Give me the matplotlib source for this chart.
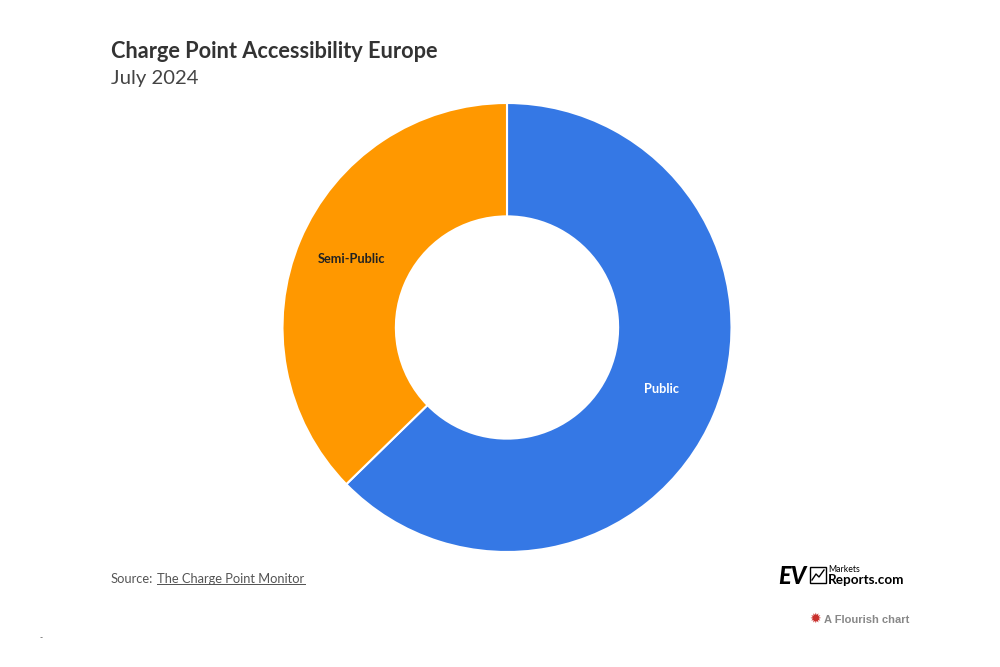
import matplotlib
matplotlib.use("Agg")
import matplotlib.pyplot as plt
from matplotlib.lines import Line2D
from matplotlib.patches import Rectangle

labels = ["Public", "Semi-Public"]
values = [62.7, 37.3]
colors = ["#3578e5", "#ff9800"]
label_colors = ["white", "#222222"]

W, H = 1000, 667
plt.rcParams["font.family"] = ["Lato", "DejaVu Sans"]
fig = plt.figure(figsize=(W / 100, H / 100), dpi=100, facecolor="white")


# pixel helpers, y measured from the top of the image
def fx(px):
    return px / W


def fy(py):
    return 1 - py / H


# donut
cx, cy, r = 507, 327.5, 224.5
ax = fig.add_axes([(cx - r) / W, (H - cy - r) / H, 2 * r / W, 2 * r / H])
wedges, _ = ax.pie(
    values,
    colors=colors,
    startangle=90,
    counterclock=False,
    radius=1,
    wedgeprops={"width": 0.505, "edgecolor": "white", "linewidth": 1.5},
)
ax.set_xlim(-1, 1)
ax.set_ylim(-1, 1)
ax.set_aspect("equal")
ax.axis("off")

fig.text(fx(661.5), fy(389), labels[0], color=label_colors[0], fontsize=9.2,
         fontweight="bold", ha="center", va="center")
fig.text(fx(352), fy(259), labels[1], color=label_colors[1], fontsize=9.2,
         fontweight="bold", ha="center", va="center")

# title
fig.text(fx(111), fy(58.5), "Charge Point Accessibility Europe", color="#333333",
         fontsize=15.65, fontweight="bold", ha="left", va="baseline")
fig.text(fx(111), fy(84), "July 2024", color="#444444", fontsize=14.6,
         ha="left", va="baseline")

# source
fig.text(fx(111), fy(583), "Source:", color="#555555", fontsize=9.3,
         ha="left", va="baseline")
fig.text(fx(157), fy(583), "The Charge Point Monitor", color="#555555", fontsize=9.3,
         ha="left", va="baseline")
fig.add_artist(Rectangle((fx(157), fy(584.5)), 149 / W, 1 / H, facecolor="#555555",
                         linewidth=0, transform=fig.transFigure))

# logo
fig.text(fx(778), fy(584), "EV", color="black", fontsize=17, fontweight="black",
         style="italic", ha="left", va="baseline")
fig.add_artist(Rectangle((fx(810), fy(583)), 16 / W, 16 / H, fill=False, edgecolor="black",
                         linewidth=1, transform=fig.transFigure))
fig.add_artist(Line2D([fx(812), fx(816), fx(819), fx(824)], [fy(580), fy(574), fy(577), fy(570)],
                      color="black", linewidth=1, transform=fig.transFigure))
fig.text(fx(828), fy(572.5), "Markets", color="black", fontsize=6.3, ha="left", va="baseline")
fig.text(fx(828), fy(584), "Reports.com", color="black", fontsize=9.7, fontweight="bold",
         ha="left", va="baseline")

# flourish credit
fig.text(fx(815), fy(619), "\u2739", color="#c9302c", fontsize=10, ha="center", va="center",
         family="DejaVu Sans")
fig.text(fx(824), fy(623), "A Flourish chart", color="#888888", fontsize=8, fontweight="bold",
         family="Liberation Sans", ha="left", va="baseline")

fig.text(fx(41), fy(640), "-", color="#333333", fontsize=6, ha="center", va="baseline")

fig.savefig("out.png", dpi=100)
